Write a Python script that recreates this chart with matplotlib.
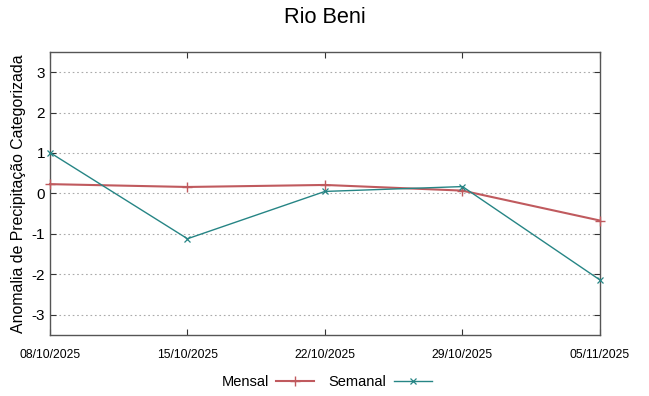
import matplotlib
matplotlib.use('Agg')
import matplotlib.pyplot as plt
import numpy as np

plt.rcParams['font.family'] = ['Liberation Sans', 'DejaVu Sans']
plt.rcParams['axes.unicode_minus'] = False

# data
datas = ['08/10/2025', '15/10/2025', '22/10/2025', '29/10/2025', '05/11/2025']
mensal = [0.23, 0.16, 0.21, 0.07, -0.67]
semanal = [1.01, -1.12, 0.05, 0.17, -2.14]

fig = plt.figure(figsize=(6.49, 3.96), dpi=100)
ax = fig.add_axes([0.077, 0.154, 0.8475, 0.715])

x = np.arange(len(datas))
l1, = ax.plot(x, mensal, color='#c05a5e', lw=1.5, marker='+', ms=7, mew=1.0,
              label='Mensal', clip_on=False, zorder=3)
l2, = ax.plot(x, semanal, color='#268585', lw=1.0, marker='x', ms=5, mew=0.9,
              label='Semanal', clip_on=False, zorder=4)

ax.set_xlim(0, len(datas) - 1)
ax.set_ylim(-3.5, 3.5)
ax.set_yticks([-3, -2, -1, 0, 1, 2, 3])
ax.set_xticks(x)
ax.set_xticklabels(datas, fontsize=8.7)
ax.tick_params(axis='x', pad=10)
ax.tick_params(axis='y', labelsize=11)
ax.tick_params(direction='in', top=True, right=True, length=4, color='#333333')
ax.grid(axis='y', linestyle=(0, (1.5, 2.5)), color='#aaaaaa', lw=0.8)
for s in ax.spines.values():
    s.set_color('#555555')
    s.set_linewidth(1.0)

ax.set_ylabel('Anomalia de Precipitação Categorizada', fontsize=11.4, labelpad=4)
fig.text(0.5, 0.955, 'Rio Beni', ha='center', va='center', fontsize=15.7)

fig.legend(handles=[l1, l2], loc='center', bbox_to_anchor=(0.503, 0.035), ncol=2,
           frameon=False, markerfirst=False, fontsize=10.5, handlelength=2.6,
           columnspacing=1.0, handletextpad=0.5)

fig.savefig('out.png', dpi=100)
